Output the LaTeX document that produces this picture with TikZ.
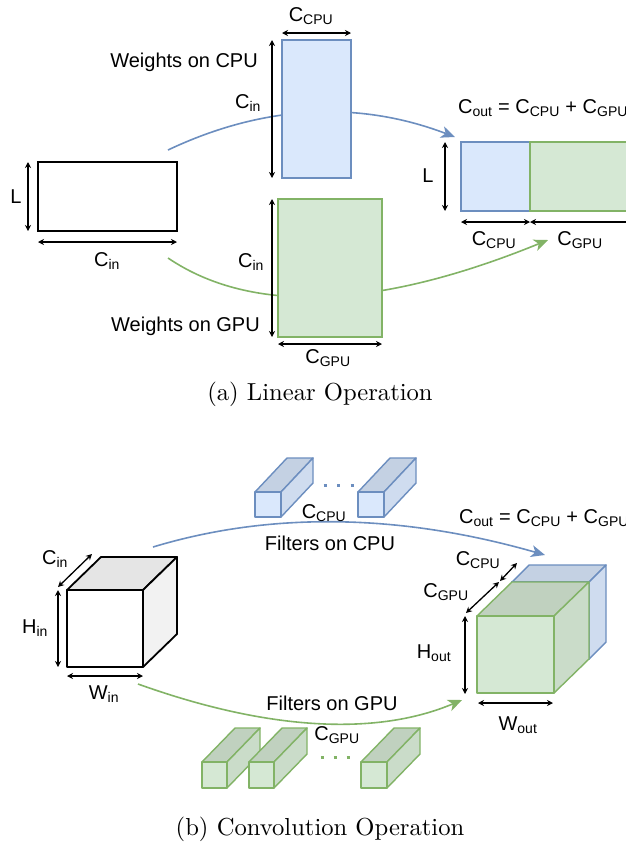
\documentclass[tikz,border=0pt]{standalone}
\usepackage{fontspec}
\newfontfamily\drawiofont{Liberation Sans}
\newfontfamily\capfont{lmroman10-regular}[Extension=.otf]
\usetikzlibrary{
    arrows.meta,
    positioning
}
\definecolor{cpuline}{HTML}{6C8EBF}
\definecolor{cpufill}{HTML}{DAE8FC}
\definecolor{gpuline}{HTML}{82B366}
\definecolor{gpufill}{HTML}{D5E8D4}
\newcommand{\Csub}[2]{#1\textsubscript{#2}}
% cuboid: x, y (front top left), width, height, depth x, depth y, colour set
\newcommand{\cuboid}[7]{%
    \filldraw[#7 top] (#1,#2) -- ++(#5,-#6) -- ++(#3,0) -- ++(-#5,#6) -- cycle;
    \filldraw[#7 side] (#1+#3,#2) -- ++(#5,-#6) -- ++(0,#4) -- ++(-#5,#6) -- cycle;
    \filldraw[#7 front] (#1,#2) rectangle ++(#3,#4);
}
\tikzset{
    plainbox/.style={rectangle, draw=black, line width=2pt, fill=white, inner sep=0pt, outer sep=0pt},
    cpubox/.style={rectangle, draw=cpuline, line width=1.5pt, fill=cpufill, inner sep=0pt, outer sep=0pt},
    gpubox/.style={rectangle, draw=gpuline, line width=1.5pt, fill=gpufill, inner sep=0pt, outer sep=0pt},
    dim/.style={{Stealth[length=6pt,width=6pt]}-{Stealth[length=6pt,width=6pt]}, line width=1.3pt, black},
    lbl/.style={font=\drawiofont\fontsize{20}{24}\selectfont, inner sep=0pt},
    caption/.style={font=\capfont\fontsize{24.6}{30}\selectfont, inner sep=0pt},
    cpuflow/.style={-{Stealth[length=14pt,width=12pt,inset=4pt]}, draw=cpuline, line width=1.6pt},
    gpuflow/.style={-{Stealth[length=14pt,width=12pt,inset=4pt]}, draw=gpuline, line width=1.6pt},
    plain top/.style={fill=black!10, draw=black, line width=1.8pt, line join=round},
    plain side/.style={fill=black!5, draw=black, line width=1.8pt, line join=round},
    plain front/.style={fill=white, draw=black, line width=1.8pt, line join=round},
    cpu top/.style={fill=cpufill!90!black, draw=cpuline, line width=1.4pt, line join=round},
    cpu side/.style={fill=cpufill!95!black, draw=cpuline, line width=1.4pt, line join=round},
    cpu front/.style={fill=cpufill, draw=cpuline, line width=1.4pt, line join=round},
    gpu top/.style={fill=gpufill!90!black, draw=gpuline, line width=1.4pt, line join=round},
    gpu side/.style={fill=gpufill!95!black, draw=gpuline, line width=1.4pt, line join=round},
    gpu front/.style={fill=gpufill, draw=gpuline, line width=1.4pt, line join=round},
    dots/.style={line width=3pt, dash pattern=on 3pt off 10.5pt}
}

\begin{document}
\begin{tikzpicture}[x=1pt, y=-1pt]
    \clip (0,0) rectangle (626,844);

    % (a) Linear operation
    \coordinate (linCpuS) at (168,150);
    \coordinate (linCpuE) at (455,137);
    \coordinate (linGpuS) at (168,258);
    \coordinate (linGpuE) at (548,240);
    \draw[cpuflow] (linCpuS) .. controls (263,105) and (358,100) .. (linCpuE);
    \draw[gpuflow] (linGpuS) .. controls (252,315) and (379,309) .. (linGpuE);

    \node[plainbox, minimum width=139, minimum height=69, anchor=north west] (inp) at (38,162) {};
    \node[cpubox, minimum width=69, minimum height=138, anchor=north west] (wcpu) at (282,40) {};
    \node[gpubox, minimum width=104, minimum height=138, anchor=north west] (wgpu) at (278,199) {};
    \node[cpubox, minimum width=69, minimum height=69, anchor=north west] (outcpu) at (461,142) {};
    \node[gpubox, minimum width=110, minimum height=69, anchor=north west] (outgpu) at (530,142) {};

    % Dimensions
    \draw[dim] ([xshift=-10pt]inp.north west) -- ([xshift=-10pt]inp.south west);
    \draw[dim] ([yshift=-11pt]inp.south west) -- ([yshift=-11pt]inp.south east);
    \draw[dim] ([yshift=7pt]wcpu.north west) -- ([yshift=7pt]wcpu.north east);
    \draw[dim] ([xshift=-10pt]wcpu.north west) -- ([xshift=-10pt]wcpu.south west);
    \draw[dim] ([xshift=-6pt]wgpu.north west) -- ([xshift=-6pt]wgpu.south west);
    \draw[dim] ([yshift=-7pt]wgpu.south west) -- ([yshift=-7pt]wgpu.south east);
    \draw[dim] ([xshift=-16pt]outcpu.north west) -- ([xshift=-16pt]outcpu.south west);
    \draw[dim] ([yshift=-11pt]outcpu.south west) -- ([yshift=-11pt]outcpu.south east);
    \draw[dim] ([yshift=-11pt]outgpu.south west) -- ([yshift=-11pt]outgpu.south east);

    \node[lbl, anchor=base] (linL) at (16,203) {L};
    \node[lbl, anchor=base] (linCin) at (107,266) {\Csub{C}{in}};
    \node[lbl, anchor=base] (wcpuW) at (311,21) {\Csub{C}{CPU}};
    \node[lbl, anchor=base east] (wcpuName) at (258,67) {Weights on CPU};
    \node[lbl, anchor=base] (wcpuH) at (248,108) {\Csub{C}{in}};
    \node[lbl, anchor=base] (wgpuH) at (251,267) {\Csub{C}{in}};
    \node[lbl, anchor=base east] (wgpuName) at (260,331) {Weights on GPU};
    \node[lbl, anchor=base] (wgpuW) at (328,363) {\Csub{C}{GPU}};
    \node[lbl, anchor=base west] (linOut) at (458,113) {\Csub{C}{out} = \Csub{C}{CPU} + \Csub{C}{GPU}};
    \node[lbl, anchor=base] (outL) at (428,182) {L};
    \node[lbl, anchor=base] (outCpuW) at (494,245) {\Csub{C}{CPU}};
    \node[lbl, anchor=base] (outGpuW) at (580,245) {\Csub{C}{GPU}};
    \node[caption, anchor=base] (capA) at (320,400) {(a) Linear Operation};

    % (b) Convolution operation
    \coordinate (convCpuS) at (153,547);
    \coordinate (convCpuE) at (545,555);
    \coordinate (convGpuS) at (138,684);
    \coordinate (convGpuE) at (462,700);
    \draw[cpuflow] (convCpuS) .. controls (272,511) and (402,514) .. (convCpuE);
    \draw[gpuflow] (convGpuS) .. controls (269,731) and (377,736) .. (convGpuE);

    % input cube
    \cuboid{67}{590}{76}{77}{34}{33}{plain}
    \draw[dim] (58,587) -- (92,554);
    \draw[dim] (58,590) -- (58,667);
    \draw[dim] (67,676) -- (143,676);

    % filters on CPU
    \cuboid{255}{492}{26}{25}{32}{34}{cpu}
    \cuboid{358}{492}{26}{25}{32}{34}{cpu}
    \coordinate (cpuDotsA) at (323.5,485);
    \coordinate (cpuDotsB) at (354,485);
    \draw[dots, cpuline] (cpuDotsA) -- (cpuDotsB);

    % filters on GPU
    \cuboid{202}{762}{25}{26}{33}{34}{gpu}
    \cuboid{249}{762}{25}{26}{33}{34}{gpu}
    \cuboid{361}{762}{26}{26}{33}{34}{gpu}
    \coordinate (gpuDotsA) at (320.5,757);
    \coordinate (gpuDotsB) at (350,757);
    \draw[dots, gpuline, dash pattern=on 3pt off 10pt] (gpuDotsA) -- (gpuDotsB);

    % output cube
    \cuboid{512}{582}{77}{77}{17}{17}{cpu}
    \cuboid{477}{616}{77}{77}{35}{34}{gpu}
    \draw[dim] (466,613) -- (499,582);
    \draw[dim] (500,581) -- (517,563);
    \draw[dim] (465,616) -- (465,694);
    \draw[dim] (478,703) -- (553,703);

    \node[lbl, anchor=base] (convCin) at (55,564) {\Csub{C}{in}};
    \node[lbl, anchor=base] (convHin) at (35,633) {\Csub{H}{in}};
    \node[lbl, anchor=base] (convWin) at (104,699) {\Csub{W}{in}};
    \node[lbl, anchor=base] (fcpuC) at (324,518) {\Csub{C}{CPU}};
    \node[lbl, anchor=base] (fcpuName) at (330,550) {Filters on CPU};
    \node[lbl, anchor=base west] (convOut) at (459,523) {\Csub{C}{out} = \Csub{C}{CPU} + \Csub{C}{GPU}};
    \node[lbl, anchor=base] (outCpuD) at (478,565) {\Csub{C}{CPU}};
    \node[lbl, anchor=base] (outGpuD) at (446,597) {\Csub{C}{GPU}};
    \node[lbl, anchor=base] (outH) at (434,658) {\Csub{H}{out}};
    \node[lbl, anchor=base] (outW) at (518,730) {\Csub{W}{out}};
    \node[lbl, anchor=base] (fgpuName) at (332,710) {Filters on GPU};
    \node[lbl, anchor=base] (fgpuC) at (337,740) {\Csub{C}{GPU}};
    \node[caption, anchor=base] (capB) at (320,835) {(b) Convolution Operation};
\end{tikzpicture}
\end{document}
